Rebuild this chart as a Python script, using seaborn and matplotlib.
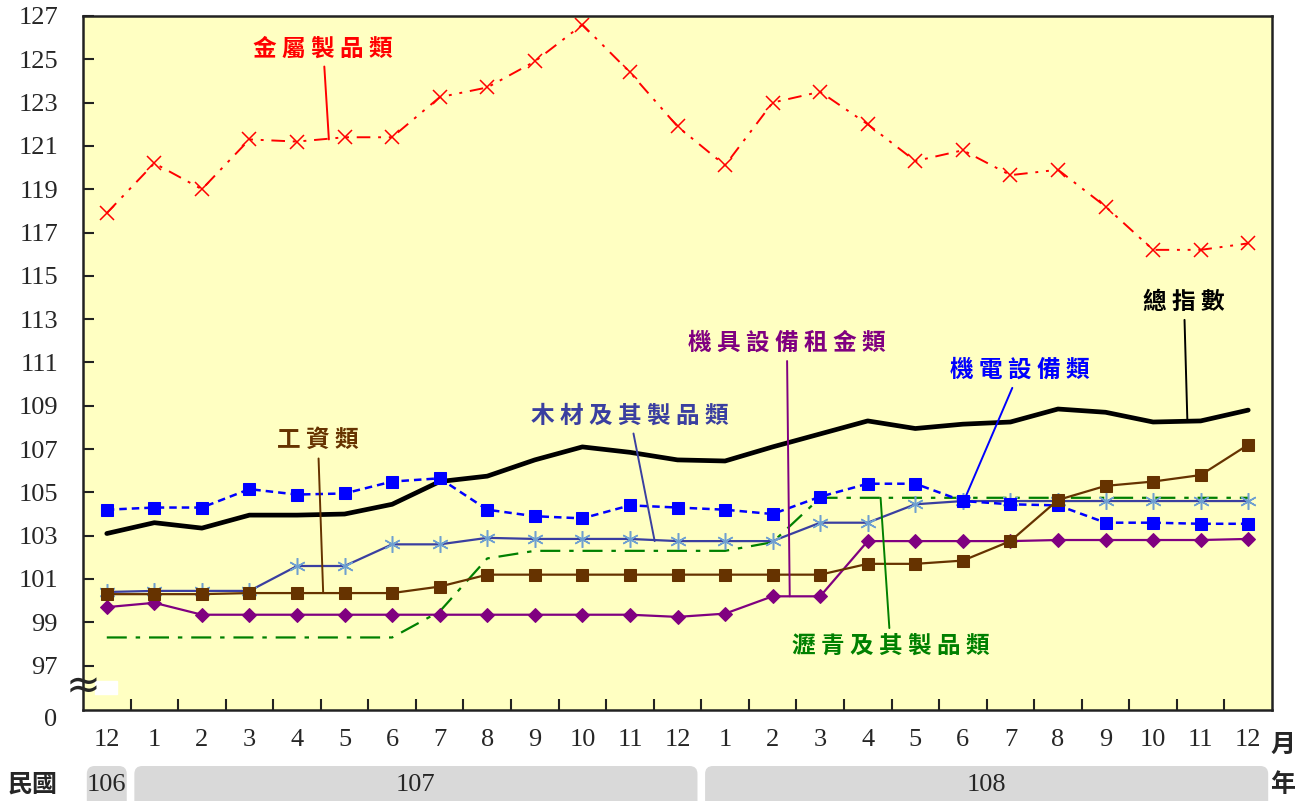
import numpy as np
import pandas as pd
import matplotlib
matplotlib.use("Agg")
import matplotlib.pyplot as plt
import seaborn as sns
from matplotlib.patches import FancyBboxPatch, Rectangle

# 106/12 ... 108/12
months = ["12", "1", "2", "3", "4", "5", "6", "7", "8", "9", "10", "11",
          "12", "1", "2", "3", "4", "5", "6", "7", "8", "9", "10", "11", "12"]
years = [("106", 0, 0), ("107", 1, 12), ("108", 13, 24)]

total = [103.1, 103.6, 103.35, 103.95, 103.95, 104.0, 104.45, 105.5, 105.75, 106.5,
         107.1, 106.85, 106.5, 106.45, 107.1, 107.7, 108.3, 107.95, 108.15, 108.25,
         108.85, 108.7, 108.25, 108.3, 108.8]
metal = [117.9, 120.2, 119.0, 121.3, 121.2, 121.4, 121.4, 123.25, 123.7, 124.9,
         126.6, 124.4, 121.9, 120.1, 123.0, 123.5, 122.0, 120.3, 120.8, 119.65,
         119.9, 118.2, 116.2, 116.2, 116.5]
electro = [104.2, 104.3, 104.3, 105.15, 104.9, 104.95, 105.5, 105.65, 104.2, 103.9,
           103.8, 104.4, 104.3, 104.2, 104.0, 104.8, 105.4, 105.4, 104.6, 104.45,
           104.4, 103.6, 103.6, 103.55, 103.55]
wood = [100.4, 100.45, 100.45, 100.45, 101.6, 101.6, 102.6, 102.6, 102.9, 102.85,
        102.85, 102.85, 102.75, 102.75, 102.75, 103.6, 103.6, 104.45, 104.6, 104.6,
        104.6, 104.6, 104.6, 104.6, 104.6]
wages = [100.3, 100.3, 100.3, 100.35, 100.35, 100.35, 100.35, 100.65, 101.2, 101.2,
         101.2, 101.2, 101.2, 101.2, 101.2, 101.2, 101.7, 101.7, 101.85, 102.75,
         104.65, 105.3, 105.5, 105.8, 107.2]
rental = [99.7, 99.9, 99.35, 99.35, 99.35, 99.35, 99.35, 99.35, 99.35, 99.35,
          99.35, 99.35, 99.25, 99.4, 100.2, 100.2, 102.75, 102.75, 102.75, 102.75,
          102.8, 102.8, 102.8, 102.8, 102.85]
asphalt = [98.3, 98.3, 98.3, 98.3, 98.3, 98.3, 98.3, 99.5, 101.95, 102.3,
           102.3, 102.3, 102.3, 102.3, 102.7, 104.75, 104.75, 104.75, 104.75, 104.75,
           104.75, 104.75, 104.75, 104.75, 104.75]

df = pd.DataFrame({"i": np.arange(len(months)), "total": total, "metal": metal,
                   "electro": electro, "wood": wood, "wages": wages,
                   "rental": rental, "asphalt": asphalt})

sns.set_theme(style="white")
plt.rcParams["font.family"] = ["Liberation Serif", "Noto Sans CJK TC", "DejaVu Sans"]
CJK = ["Noto Sans CJK TC", "DejaVu Sans"]

fig = plt.figure(figsize=(13.14, 8.01), dpi=100)
ax = fig.add_axes([83 / 1314, 1 - 710 / 801, (1272 - 83) / 1314, (710 - 16) / 801])
ax.set_facecolor("#FFFFC2")

common = dict(x="i", data=df, ax=ax, errorbar=None, legend=False)
sns.lineplot(y="total", color="black", lw=3.4, **common)
sns.lineplot(y="metal", color="#FF0000", lw=1.4, linestyle=(0, (7, 4, 1.5, 4, 1.5, 4)),
             marker="x", ms=10, mec="#FF0000", mew=1.1, **common)
sns.lineplot(y="asphalt", color="#008000", lw=1.6, linestyle=(0, (9, 4, 2, 4)), **common)
sns.lineplot(y="wood", color="#3A3FA0", lw=1.6, marker=(6, 2, 0), ms=12,
             mec="#6FA0D0", mew=1.1, **common)
sns.lineplot(y="rental", color="#800080", lw=1.6, marker="D", ms=7.5,
             mec="#800080", mfc="#800080", **common)
sns.lineplot(y="electro", color="#0000FF", lw=1.8, linestyle=(0, (3, 2)), marker="s",
             ms=9, mec="#0000FF", mfc="#0000FF", **common)
sns.lineplot(y="wages", color="#663300", lw=1.6, marker="s", ms=8.5,
             mec="#663300", mfc="#663300", **common)

ax.set_xlim(-0.5, len(months) - 0.5)
ax.set_ylim(94.95, 127)
ax.set_yticks(np.arange(97, 128, 2))
ax.set_xticks(np.arange(len(months)))
ax.set_xticklabels(months)
ax.set_xticks(np.arange(0.5, len(months) - 1, 1), minor=True)
ax.set_xlabel("")
ax.set_ylabel("")
ax.tick_params(axis="y", direction="in", length=8, width=1.5, color="#222222",
               labelsize=19, pad=18, left=True)
ax.tick_params(axis="x", which="major", length=0, labelsize=19, pad=14)
ax.tick_params(axis="x", which="minor", direction="in", length=8, width=1.5,
               color="#222222", bottom=True)
for sp in ax.spines.values():
    sp.set_color("#222222")
    sp.set_linewidth(1.8)

# axis break
ax.annotate("0", xy=(0, 94.48), xycoords=("axes fraction", "data"), xytext=(-26, 0),
            textcoords="offset pixels", ha="right", va="center", fontsize=19,
            annotation_clip=False)
ax.add_patch(Rectangle((-0.25, 95.68), 0.46, 0.6, color="white", zorder=5))
ax.annotate("≈", xy=(0, 96.05), xycoords=("axes fraction", "data"), ha="center",
            va="center", fontsize=30, family="DejaVu Sans", annotation_clip=False,
            zorder=6)

# labels with leader lines
labels = [
    ("金 屬 製 品 類", "#FF0000", (4.55, 125.5), (4.67, 121.3)),
    ("總 指 數", "black", (22.65, 113.8), (22.72, 108.35)),
    ("機 具 設 備 租 金 類", "#800080", (14.3, 111.9), (14.36, 100.2)),
    ("機 電 設 備 類", "#0000FF", (19.2, 110.65), (18.02, 104.6)),
    ("木 材 及 其 製 品 類", "#3A3FA0", (11.0, 108.55), (11.52, 102.75)),
    ("工 資 類", "#663300", (4.44, 107.4), (4.55, 100.35)),
    ("瀝 青 及 其 製 品 類", "#008000", (16.48, 97.9), (16.27, 104.75)),
]
for txt, col, tpos, ppos in labels:
    ax.annotate(txt, xy=ppos, xytext=tpos, ha="center", va="center", color=col,
                fontsize=17, fontweight="bold", family=CJK,
                arrowprops=dict(arrowstyle="-", color=col, lw=1.4, shrinkA=2, shrinkB=0))

# year bands
fig.canvas.draw()
to_fig = fig.transFigure.inverted()
for name, a, b in years:
    x0 = to_fig.transform(ax.transData.transform((a - 0.42, 0)))[0]
    x1 = to_fig.transform(ax.transData.transform((b + 0.42, 0)))[0]
    box = FancyBboxPatch((x0, -0.02), x1 - x0, 1 - 766 / 801 + 0.02,
                         boxstyle="round,pad=0,rounding_size=0.006",
                         mutation_aspect=1314 / 801, transform=fig.transFigure,
                         facecolor="#D9D9D9", edgecolor="none")
    fig.patches.append(box)
    fig.text((x0 + x1) / 2, 1 - 785 / 801, name, ha="center", va="center", fontsize=19)

fig.text(33 / 1314, 1 - 785 / 801, "民國", ha="center", va="center", fontsize=18,
         fontweight="bold", family=CJK)
fig.text(1283 / 1314, 1 - 745 / 801, "月", ha="center", va="center", fontsize=18,
         fontweight="bold", family=CJK)
fig.text(1283 / 1314, 1 - 785 / 801, "年", ha="center", va="center", fontsize=18,
         fontweight="bold", family=CJK)

fig.savefig("out.png", dpi=100)
